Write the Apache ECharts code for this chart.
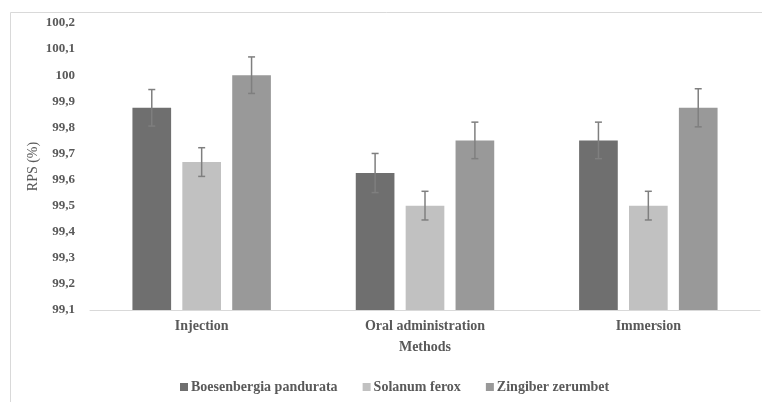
<!DOCTYPE html>
<html>
<head>
<meta charset="utf-8">
<script src="https://cdn.jsdelivr.net/npm/echarts@6/dist/echarts.min.js"></script>
<style>html,body{margin:0;padding:0;background:#fff}#c{width:762px;height:402px}</style>
</head>
<body>
<div id="c"></div>
<script>
const categories = ['Injection', 'Oral administration', 'Immersion'];
const seriesNames = ['Boesenbergia pandurata', 'Solanum ferox', 'Zingiber zerumbet'];
const boesenbergia = [99.875, 99.625, 99.75];
const solanum = [99.667, 99.5, 99.5];
const zingiber = [100.0, 99.75, 99.875];
const boesenbergiaErr = [0.07, 0.075, 0.07];
const solanumErr = [0.055, 0.055, 0.055];
const zingiberErr = [0.07, 0.07, 0.073];

const values = [boesenbergia, solanum, zingiber];
const errors = [boesenbergiaErr, solanumErr, zingiberErr];
const colors = ['#6f6f6f', '#c1c1c1', '#999999'];
const FONT = '"Liberation Serif", "DejaVu Serif", serif';
const CAT_GAP = 0.38, BAR_GAP = 0.29;

const chart = echarts.init(document.getElementById('c'), null, {renderer: 'canvas'});

function fmt(v) {
  return String(Number(v.toFixed(1))).replace('.', ',');
}

const series = [];
values.forEach((vals, i) => {
  series.push({
    name: seriesNames[i],
    type: 'bar',
    data: vals,
    itemStyle: {color: colors[i]},
    barGap: (BAR_GAP * 100) + '%',
    barCategoryGap: (CAT_GAP * 100) + '%'
  });
});
values.forEach((vals, i) => {
  series.push({
    type: 'custom',
    name: seriesNames[i] + ' err',
    silent: true,
    z: 10,
    data: vals.map((v, k) => [k, v - errors[i][k], v + errors[i][k]]),
    renderItem: function (params, api) {
      const cw = api.size([1, 0])[0];
      const w = cw * (1 - CAT_GAP) / (3 + 2 * BAR_GAP);
      const off = (i - 1) * w * (1 + BAR_GAP);
      const lo = api.coord([api.value(0), api.value(1)]);
      const hi = api.coord([api.value(0), api.value(2)]);
      const x = lo[0] + off;
      const cap = 3.5;
      const style = {stroke: '#7f7f7f', lineWidth: 1.5};
      return {
        type: 'group',
        children: [
          {type: 'line', shape: {x1: x, y1: lo[1], x2: x, y2: hi[1]}, style: style},
          {type: 'line', shape: {x1: x - cap, y1: hi[1], x2: x + cap, y2: hi[1]}, style: style},
          {type: 'line', shape: {x1: x - cap, y1: lo[1], x2: x + cap, y2: lo[1]}, style: style}
        ]
      };
    }
  });
});

chart.setOption({
  animation: false,
  backgroundColor: '#fff',
  textStyle: {fontFamily: FONT},
  graphic: [
    {type: 'rect', left: 8, top: 10, shape: {width: 760, height: 390}, style: {fill: 'none', stroke: '#d9d9d9', lineWidth: 1}, silent: true}
  ],
  grid: {left: 90, right: 2, top: 23, bottom: 92},
  legend: {
    data: seriesNames,
    left: 175,
    top: 375,
    itemWidth: 8,
    itemHeight: 8,
    itemGap: 25,
    icon: 'rect',
    textStyle: {color: '#595959', fontSize: 14, fontWeight: 'bold', fontFamily: FONT, padding: [0, 0, 0, -2]}
  },
  xAxis: {
    type: 'category',
    data: categories,
    name: 'Methods',
    nameLocation: 'middle',
    nameGap: 30,
    nameMoveOverlap: false,
    nameTextStyle: {color: '#595959', fontSize: 14, fontWeight: 'bold', fontFamily: FONT},
    axisLine: {lineStyle: {color: '#d9d9d9', width: 1}},
    axisTick: {show: false},
    axisLabel: {color: '#595959', fontSize: 14, fontWeight: 'bold', fontFamily: FONT, margin: 9}
  },
  yAxis: {
    type: 'value',
    min: 99.1,
    max: 100.2,
    interval: 0.1,
    name: 'RPS (%)',
    nameLocation: 'middle',
    nameGap: 50,
    nameMoveOverlap: false,
    nameTextStyle: {color: '#595959', fontSize: 14, fontFamily: FONT},
    axisLine: {show: false},
    axisTick: {show: false},
    splitLine: {show: false},
    axisLabel: {color: '#595959', fontSize: 13, fontWeight: 'bold', fontFamily: FONT, margin: 15, formatter: fmt}
  },
  series: series
});
</script>
</body>
</html>
